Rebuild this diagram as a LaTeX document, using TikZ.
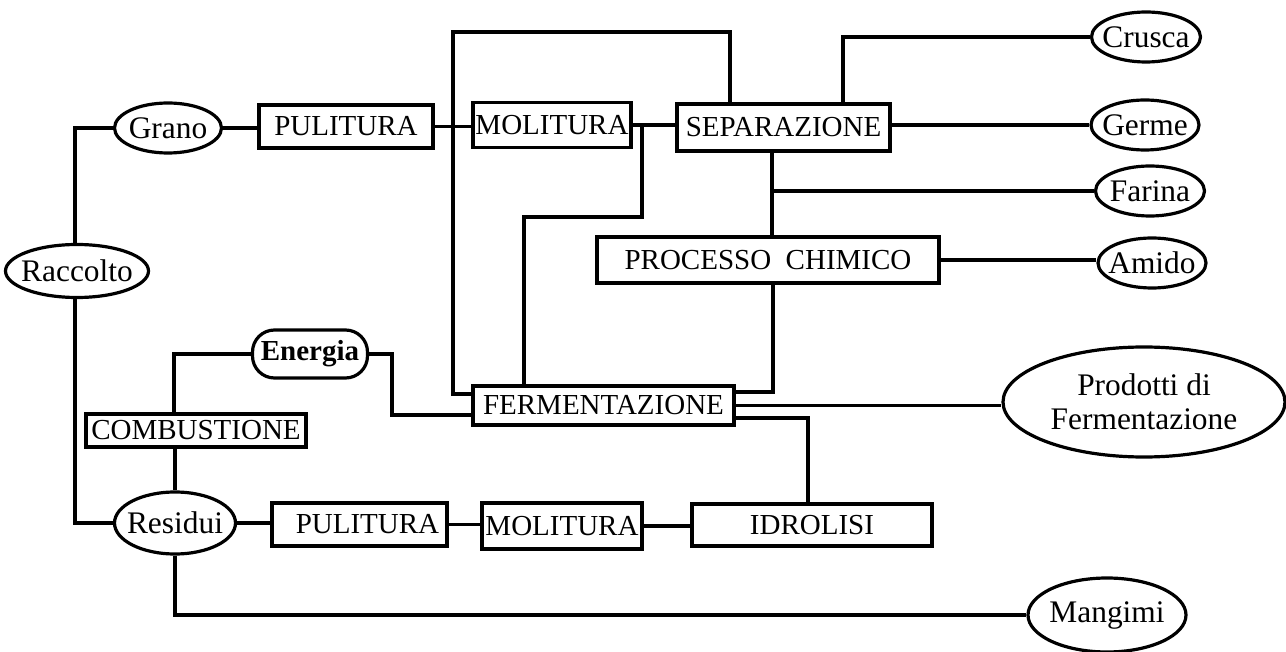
\documentclass[tikz,border=0pt]{standalone}
\usepackage{fontspec}
\setmainfont{Liberation Serif}
\usetikzlibrary{shapes.geometric}
\tikzset{
  base/.style={draw=black, line width=1.6pt, inner sep=0pt, align=center,
    font=\fontsize{14.5pt}{17pt}\selectfont},
  boxnode/.style={base, rectangle},
  ellnode/.style={base, ellipse},
  lbl/.style={font=\fontsize{15.7pt}{17pt}\selectfont, align=center, inner sep=0pt},
  pillnode/.style={base, rectangle, rounded corners=11pt},
  conn/.style={line width=1.6pt, line join=miter}
}
\begin{document}
\begin{tikzpicture}[x=0.5pt,y=-0.5pt]
\useasboundingbox[fill=white] (0,0) rectangle (1286,652);

% nodes
\node[ellnode, minimum width=71.5pt, minimum height=26.5pt, label={[lbl]center:Raccolto}] (raccolto) at (77,271) {};
\node[ellnode, minimum width=53.5pt, minimum height=25pt, label={[lbl]center:Grano}] (grano) at (168,128) {};
\node[boxnode, minimum width=87pt, minimum height=21.5pt] (pul1) at (346,126.5) {PULITURA};
\node[boxnode, minimum width=79pt, minimum height=22.5pt] (mol1) at (552,125) {MOLITURA};
\node[boxnode, minimum width=106.5pt, minimum height=23.5pt] (sep) at (783.5,127.5) {SEPARAZIONE};
\node[ellnode, minimum width=54.5pt, minimum height=25pt, label={[lbl]center:Crusca}] (crusca) at (1146,37) {};
\node[ellnode, minimum width=54pt, minimum height=25pt, label={[lbl]center:Germe}] (germe) at (1145,125) {};
\node[ellnode, minimum width=54.5pt, minimum height=25pt, label={[lbl]center:Farina}] (farina) at (1150,191) {};
\node[ellnode, minimum width=54pt, minimum height=25pt, label={[lbl]center:Amido}] (amido) at (1152,263) {};
\node[boxnode, minimum width=171pt, minimum height=23pt] (proc) at (768,260) {PROCESSO\ \ CHIMICO};
\node[boxnode, minimum width=130.5pt, minimum height=19.5pt] (ferm) at (603.5,405.5) {FERMENTAZIONE};
\node[ellnode, minimum width=141pt, minimum height=55pt, label={[lbl]center:Prodotti di\\Fermentazione}] (prod) at (1144,402) {};
\node[pillnode, minimum width=57.5pt, minimum height=24pt] (energia) at (310,354) {\bfseries Energia};
\node[boxnode, minimum width=110pt, minimum height=16.5pt] (comb) at (196,430.5) {COMBUSTIONE};
\node[ellnode, minimum width=60.5pt, minimum height=31pt, label={[lbl]center:Residui}] (residui) at (175,523) {};
\node[boxnode, minimum width=87.5pt, minimum height=21.5pt] (pul2) at (359.5,524.5) {\hspace{8pt}PULITURA};
\node[boxnode, minimum width=80pt, minimum height=23pt] (mol2) at (562,526) {MOLITURA};
\node[boxnode, minimum width=120pt, minimum height=21pt] (idro) at (812,525) {IDROLISI};
\node[ellnode, minimum width=79pt, minimum height=37pt, label={[lbl]center:Mangimi}] (mangimi) at (1107,615) {};

% junctions
\coordinate (j1) at (mol1.east -| 642,0);
\coordinate (j2) at (772,191);

% connectors
\draw[conn] (75,0 |- raccolto.north) |- (grano.west);
\draw[conn] (grano.east) -- (grano.east -| pul1.west);
\draw[conn] (pul1.east) -- (pul1.east -| mol1.west);
\draw[conn] (mol1.east) -- (mol1.east -| sep.west);
\draw[conn] (ferm.west |- 0,394) -- (453,394) -- (453,32) -- (730,32) -- (730,0 |- sep.north);
\draw[conn] (j1) -- (642,217) -- (524,217) -- (524,0 |- ferm.north);
\draw[conn] (843,0 |- sep.north) |- (crusca.west);
\draw[conn] (germe.west -| sep.east) -- (germe.west);
\draw[conn] (772,0 |- sep.south) -- (772,0 |- proc.north);
\draw[conn] (j2) -- (farina.west);
\draw[conn] (proc.east) -- (proc.east -| amido.west);
\draw[conn] (773,0 |- proc.south) |- (ferm.east |- 0,392);
\draw[conn] (ferm.east) -- (ferm.east -| prod.west);
\draw[conn] (ferm.east |- 0,418) -| (808,0 |- idro.north);
\draw[conn] (energia.east) -| (392,415) -- (ferm.west |- 0,415);
\draw[conn] (energia.west) -| (174,0 |- comb.north);
\draw[conn] (comb.south -| residui.north) -- (residui.north);
\draw[conn] (75,0 |- raccolto.south) |- (residui.west);
\draw[conn] (residui.east) -- (residui.east -| pul2.west);
\draw[conn] (pul2.east) -- (pul2.east -| mol2.west);
\draw[conn] (mol2.east) -- (mol2.east -| idro.west);
\draw[conn] (residui.south) |- (mangimi.west);
\end{tikzpicture}
\end{document}
